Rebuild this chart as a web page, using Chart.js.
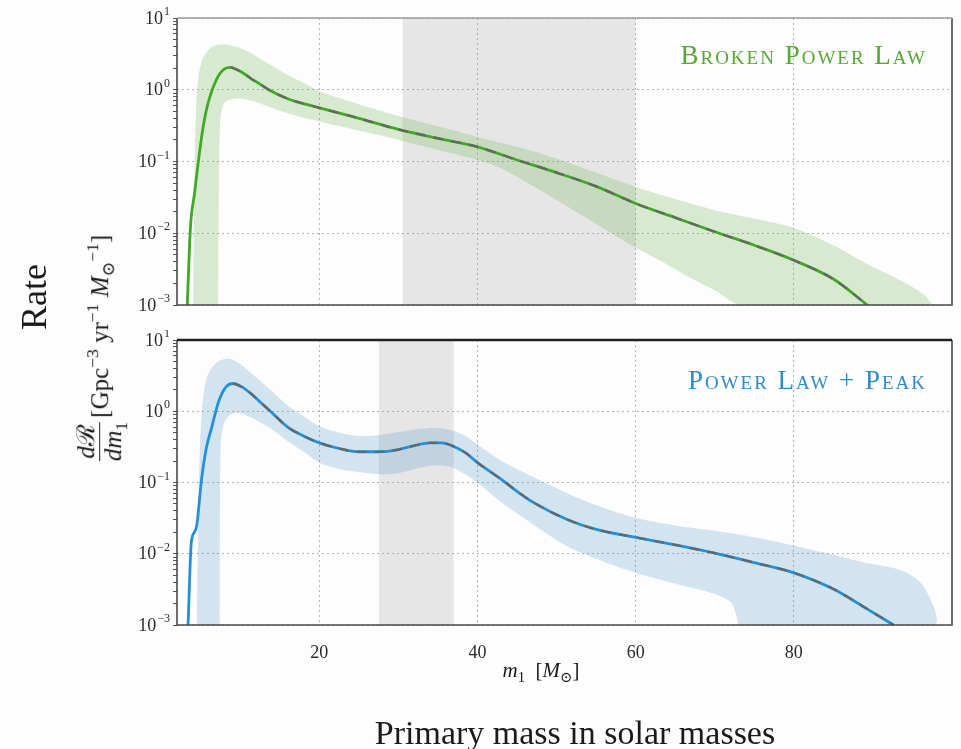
<!DOCTYPE html>
<html>
<head>
<meta charset="utf-8">
<script src="https://cdn.jsdelivr.net/npm/chart.js@4.4.1/dist/chart.umd.min.js"></script>
<style>
  html, body { margin: 0; padding: 0; background: #fdfdfd; }
  #wrap { position: relative; width: 961px; height: 749px; overflow: hidden;
          font-family: 'Liberation Serif', 'DejaVu Serif', serif; color: #1a1a1a; }
  #wrap canvas { position: absolute; left: 0; }
  .lbl { position: absolute; white-space: nowrap; line-height: 1; }
  .rot { transform: translate(-50%, -50%) rotate(-90deg); }
  .ctr { transform: translate(-50%, -50%); }
  .title { font-variant: small-caps; font-size: 27px; letter-spacing: 2px; }
  .frac { display: inline-flex; flex-direction: column; align-items: center;
          vertical-align: middle; font-size: 1em; line-height: 1.05; margin-right: 4px; }
  .frac .num { border-bottom: 1px solid #222; padding: 0 2px; }
  sup, sub { font-size: 0.7em; }
</style>
</head>
<body>
<div id="wrap">
  <canvas id="topChart" width="961" height="330" style="top:0"></canvas>
  <canvas id="botChart" width="961" height="419" style="top:330px"></canvas>

  <div class="lbl title" style="right:34px; top:42px; color:#56a834;">Broken Power Law</div>
  <div class="lbl title" style="right:34px; top:367px; color:#2e8ccc;">Power Law + Peak</div>

  <div class="lbl rot" style="left:34px; top:297px; font-size:36px;">Rate</div>
  <div class="lbl rot" style="left:102px; top:348px; font-size:25px;">
    <span class="frac"><span class="num"><i>d</i>ℛ</span><span class="den"><i>dm</i><sub>1</sub></span></span>[Gpc<sup>−3</sup> yr<sup>−1</sup> <i>M</i><sub>⊙</sub><sup>−1</sup>]
  </div>
  <div class="lbl ctr" style="left:541px; top:672px; font-size:21px;"><i>m</i><sub>1</sub>&nbsp; [<i>M</i><sub>⊙</sub>]</div>
  <div class="lbl ctr" style="left:575px; top:733px; font-size:34px;">Primary mass in solar masses</div>
</div>

<script>
const SERIF = "'Liberation Serif', 'DejaVu Serif', serif";

// axis ticks
const xTicks = [20, 40, 60, 80];
const yExponents = [1, 0, -1, -2, -3];

// Broken Power Law: median, upper and lower edges of the band
const bplMass   = [3.3, 3.7, 4.2, 4.7, 5.3, 6.0, 7.0, 8.0, 8.8, 9.6, 10.4, 11.4, 12.5, 13.6, 16, 20, 25, 30, 35, 40, 45, 50, 55, 60, 65, 70, 75, 80, 85, 89.3];
const bplMedian = [0.001, 0.012, 0.035, 0.1, 0.3, 0.7, 1.4, 1.95, 2.05, 1.9, 1.7, 1.42, 1.2, 1.0, 0.75, 0.56, 0.4, 0.28, 0.21, 0.16, 0.105, 0.07, 0.045, 0.026, 0.0165, 0.0105, 0.0068, 0.0042, 0.0023, 0.001];
const bplUpperMass = [4.05, 4.2, 4.4, 4.7, 5.3, 6.2, 7.0, 8.0, 9.0, 10.0, 11.0, 12.3, 13.6, 16, 18, 20, 22.8, 25, 30, 35, 40, 45, 50, 55, 60, 65, 70, 75, 80, 85, 89.3, 93.5, 96.4, 97.3];
const bplUpper     = [0.001, 0.05, 0.5, 1.5, 2.8, 3.8, 4.2, 4.3, 4.1, 3.8, 3.4, 2.8, 2.3, 1.6, 1.25, 0.95, 0.75, 0.63, 0.43, 0.31, 0.22, 0.16, 0.11, 0.07, 0.044, 0.03, 0.021, 0.016, 0.0118, 0.0068, 0.0037, 0.0022, 0.0014, 0.001];
const bplLowerMass = [7.2, 7.3, 7.5, 8.0, 9.0, 10.0, 11.5, 13.6, 16, 20, 25, 30, 35, 40, 43, 47, 50, 55, 60, 63, 66.6, 70, 73.3];
const bplLower     = [0.001, 0.05, 0.4, 0.66, 0.74, 0.75, 0.7, 0.58, 0.47, 0.36, 0.27, 0.2, 0.145, 0.105, 0.08, 0.046, 0.029, 0.0135, 0.0063, 0.0042, 0.0025, 0.0016, 0.001];
const bplShade = [30.5, 60];

// Power Law + Peak
const plpMass   = [3.4, 3.8, 4.2, 4.5, 5.1, 5.7, 6.4, 7.3, 8.2, 9.1, 10.2, 11.4, 12.5, 13.6, 16, 18, 20, 22.5, 25, 27.5, 30, 32, 34, 35.5, 37, 38.5, 40, 42.8, 45, 47, 51.4, 55, 60, 65, 70, 75, 80, 85, 89.2, 92.6];
const plpMedian = [0.001, 0.014, 0.02, 0.025, 0.11, 0.3, 0.6, 1.4, 2.2, 2.45, 2.2, 1.75, 1.35, 1.05, 0.6, 0.45, 0.36, 0.3, 0.27, 0.27, 0.29, 0.33, 0.36, 0.36, 0.32, 0.26, 0.19, 0.115, 0.075, 0.053, 0.03, 0.022, 0.017, 0.0133, 0.0102, 0.0075, 0.0054, 0.0032, 0.0017, 0.001];
const plpUpperMass = [4.5, 4.7, 4.9, 5.2, 5.6, 6.2, 7.0, 8.0, 9.0, 10.0, 11.0, 12.3, 13.6, 16, 18, 20, 22.5, 25, 27.5, 30, 32.5, 35, 37, 38.5, 40, 42.8, 44.2, 47, 51.4, 55, 60, 65, 70, 75, 80, 85, 89, 93.5, 96.4, 97.7];
const plpUpper     = [0.001, 0.03, 0.3, 1.2, 2.5, 3.8, 4.8, 5.4, 5.3, 4.6, 3.7, 2.8, 2.1, 1.2, 0.85, 0.62, 0.5, 0.45, 0.46, 0.51, 0.56, 0.58, 0.53, 0.45, 0.34, 0.21, 0.17, 0.12, 0.07, 0.048, 0.032, 0.025, 0.021, 0.017, 0.013, 0.0097, 0.0075, 0.0059, 0.0035, 0.001];
const plpLowerMass = [7.4, 7.5, 7.8, 8.5, 9.5, 11, 12.3, 13.6, 16, 18, 20, 22.5, 25, 28, 30, 31.6, 33.8, 36, 37.5, 40, 42.8, 47, 51.4, 55, 60, 65, 69.7, 72, 72.8, 73.2];
const plpLower     = [0.001, 0.3, 0.6, 0.85, 0.95, 0.85, 0.72, 0.6, 0.38, 0.27, 0.19, 0.155, 0.14, 0.13, 0.135, 0.15, 0.17, 0.17, 0.15, 0.1, 0.055, 0.026, 0.0126, 0.0085, 0.0054, 0.0038, 0.0028, 0.0021, 0.0013, 0.001];
const plpShade = [27.5, 37];

const toPts = (xs, ys) => xs.map((x, i) => ({ x, y: ys[i] }));

// decade labels 10^n with a raised exponent
const decadeLabels = {
    id: 'decadeLabels',
    afterDraw(chart) {
        const y = chart.scales.y, c = chart.ctx;
        c.save();
        c.fillStyle = '#2a2a2a';
        c.textAlign = 'right';
        c.textBaseline = 'middle';
        yExponents.forEach(e => {
            const py = y.getPixelForValue(Math.pow(10, e));
            const sup = e < 0 ? '\u2212' + (-e) : String(e);
            c.font = '12px ' + SERIF;
            c.fillText(sup, 170, py - 6);
            const w = c.measureText(sup).width;
            c.font = '18px ' + SERIF;
            c.fillText('10', 170 - w - 1, py + 1);
        });
        c.restore();
    }
};

// box around the plot area
const frame = {
    id: 'frame',
    afterDraw(chart, args, opts) {
        const a = chart.chartArea, c = chart.ctx;
        c.save();
        c.lineWidth = 1.6;
        c.strokeStyle = '#4a4a4a';
        c.beginPath();
        c.moveTo(a.left, a.top); c.lineTo(a.left, a.bottom);
        c.lineTo(a.right, a.bottom); c.lineTo(a.right, a.top);
        c.stroke();
        c.lineWidth = opts.topWidth;
        c.strokeStyle = opts.topColor;
        c.beginPath();
        c.moveTo(a.left, a.top); c.lineTo(a.right, a.top);
        c.stroke();
        c.restore();
    }
};

function panel(id, cfg) {
    const peak = cfg.median.indexOf(Math.max(...cfg.median));
    const medianPts = toPts(cfg.mass, cfg.median);
    const bandPts = toPts(cfg.upperMass, cfg.upper).concat(toPts(cfg.lowerMass, cfg.lower).reverse());
    const isDecade = v => Math.abs(Math.log10(v) - Math.round(Math.log10(v))) < 1e-6;
    const minors = [];
    for (let e = -3; e < 1; e++) for (let k = 1; k < 10; k++) minors.push(k * Math.pow(10, e));
    minors.push(10);

    return new Chart(document.getElementById(id), {
        type: 'line',
        data: {
            datasets: [
                {   // dashed overlay on the median
                    data: medianPts.slice(peak), order: 0,
                    borderColor: '#666', borderWidth: 2.2, borderDash: [10, 8],
                    cubicInterpolationMode: 'monotone', fill: false
                },
                {   // median
                    data: medianPts, order: 1,
                    borderColor: cfg.line, borderWidth: 2.8,
                    cubicInterpolationMode: 'monotone', fill: false
                },
                {   // 90% band
                    data: bandPts, order: 2,
                    borderWidth: 0, borderColor: 'rgba(0,0,0,0)',
                    backgroundColor: cfg.band, tension: 0.3, fill: 'shape'
                },
                {   // shaded mass region
                    data: [{ x: cfg.shade[0], y: 10 }, { x: cfg.shade[1], y: 10 }], order: 3,
                    borderWidth: 0, borderColor: 'rgba(0,0,0,0)',
                    backgroundColor: 'rgba(140,140,140,0.2)', fill: 'start'
                }
            ]
        },
        options: {
            responsive: false,
            animation: false,
            devicePixelRatio: 1,
            layout: { padding: { top: cfg.padTop, right: 9, left: 0, bottom: 0 } },
            elements: { point: { radius: 0 } },
            plugins: {
                legend: { display: false },
                tooltip: { enabled: false },
                frame: { topColor: cfg.topColor, topWidth: cfg.topWidth }
            },
            scales: {
                x: {
                    type: 'linear', min: 2, max: 100,
                    afterBuildTicks: s => { s.ticks = xTicks.map(v => ({ value: v })); },
                    afterFit: s => { s.height = cfg.xHeight; },
                    grid: { color: '#b4b4b4', lineWidth: 1, drawTicks: false },
                    border: { display: false, dash: [2, 3] },
                    ticks: { display: cfg.showX, padding: 17, color: '#2a2a2a', font: { family: SERIF, size: 18 } }
                },
                y: {
                    type: 'logarithmic', min: 1e-3, max: 10,
                    afterBuildTicks: s => { s.ticks = minors.map(v => ({ value: v })); },
                    afterFit: s => { s.width = 177; },
                    grid: {
                        color: c => isDecade(c.tick.value) ? '#b4b4b4' : 'rgba(0,0,0,0)',
                        tickColor: '#555', tickLength: 4, drawTicks: true
                    },
                    border: { display: false, dash: [2, 3] },
                    ticks: { display: false }
                }
            }
        },
        plugins: [decadeLabels, frame]
    });
}

panel('topChart', {
    mass: bplMass, median: bplMedian,
    upperMass: bplUpperMass, upper: bplUpper,
    lowerMass: bplLowerMass, lower: bplLower,
    shade: bplShade,
    line: '#3fa826', band: 'rgba(110,180,80,0.26)',
    padTop: 18, xHeight: 25, showX: false,
    topColor: '#9a9a9a', topWidth: 1.4
});

panel('botChart', {
    mass: plpMass, median: plpMedian,
    upperMass: plpUpperMass, upper: plpUpper,
    lowerMass: plpLowerMass, lower: plpLower,
    shade: plpShade,
    line: '#2290da', band: 'rgba(60,140,190,0.22)',
    padTop: 10, xHeight: 124, showX: true,
    topColor: '#222', topWidth: 2.6
});
</script>
</body>
</html>
